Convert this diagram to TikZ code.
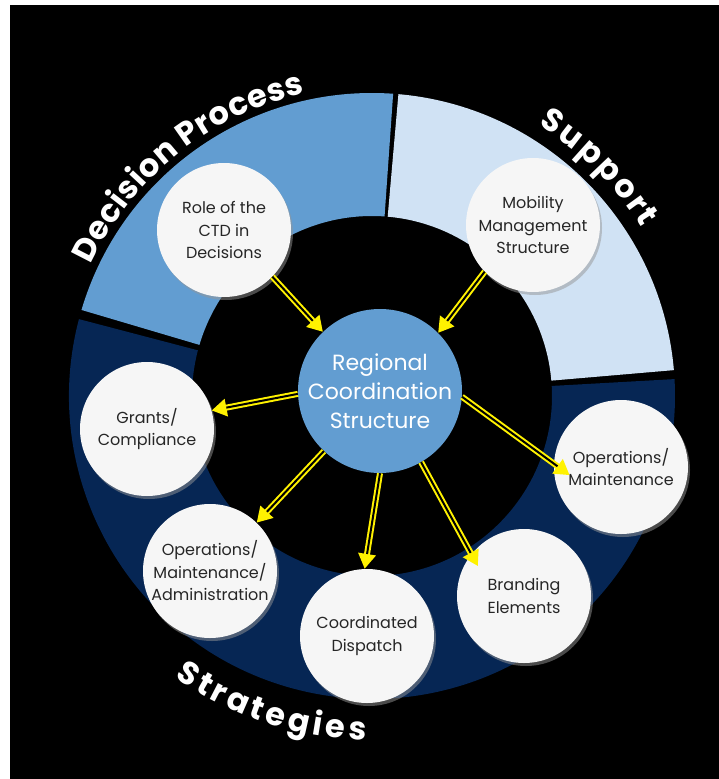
\documentclass[tikz,border=0pt]{standalone}
\usepackage{fontspec}
\setmainfont{Poppins}
\usetikzlibrary{arrows.meta,shadows,decorations.text,calc}
\definecolor{midblue}{RGB}{98,157,209}
\definecolor{lightblue}{RGB}{208,226,244}
\definecolor{navy}{RGB}{6,38,84}
\definecolor{nodefill}{RGB}{246,246,246}
\definecolor{txt}{RGB}{38,38,38}
\definecolor{shadowgray}{RGB}{150,150,150}
\begin{document}
\begin{tikzpicture}[x=1pt,y=1pt,
  bubble/.style={circle, fill=nodefill, minimum size=134pt, inner sep=0pt, align=center,
    text=txt, font=\fontsize{16}{22.5}\selectfont,
    drop shadow={shadow xshift=2pt, shadow yshift=-3pt, fill=shadowgray}},
  hub/.style={circle, fill=midblue, minimum size=164pt, inner sep=0pt, align=center,
    text=white, font=\fontsize{22}{29}\selectfont},
  conn/.style={draw=yellow, line width=6pt, -{Triangle[length=15pt,width=17pt]},
    postaction={draw=black, line width=2pt, -, shorten >=15pt}},
  arclabel/.style={decorate, decoration={text effects along path, text={#1},
    text effects/.cd, text along path, fit text to path,
    characters={text=white, font=\fontsize{32}{40}\selectfont\bfseries}}}
]
\useasboundingbox (0,0) rectangle (719,-779);
\fill[white] (0,0) rectangle (719,-779);
\fill[black] (10,-5) rectangle (719,-779);

\begin{scope}[shift={(372,-396)}]
  \fill[midblue] (86:303) arc[start angle=86, end angle=163.5, radius=303]
    -- (163.5:180) arc[start angle=163.5, end angle=86, radius=180] -- cycle;
  \fill[navy] (165.3:303) arc[start angle=165.3, end angle=363.2, radius=303]
    -- (363.2:180) arc[start angle=363.2, end angle=165.3, radius=180] -- cycle;
  \fill[lightblue] (4.9:303) arc[start angle=4.9, end angle=85, radius=303]
    -- (85:180) arc[start angle=85, end angle=4.9, radius=180] -- cycle;
  \path[arclabel={Decision Process}]
    (155:310) arc[start angle=155, end angle=102.5, radius=310];
  \path[arclabel={Support}]
    (58.5:318) arc[start angle=58.5, end angle=32, radius=318];
  \path[arclabel={Strategies}]
    (235:344) arc[start angle=235, end angle=269, radius=344];
\end{scope}

\node[hub] (ctr) at (380,-391) {Regional\\Coordination\\Structure};
\node[bubble] (role) at (224,-230) {Role of the\\CTD in\\Decisions};
\node[bubble] (mob) at (533,-225) {Mobility\\Management\\Structure};
\node[bubble] (grants) at (147,-429) {Grants/\\Compliance};
\node[bubble] (oma) at (210,-571) {Operations/\\Maintenance/\\Administration};
\node[bubble] (cd) at (367,-636) {Coordinated\\Dispatch};
\node[bubble] (br) at (524,-596) {Branding\\Elements};
\node[bubble] (om) at (621,-467) {Operations/\\Maintenance};

\coordinate (brtip) at ($(br.center)+(147:55)$);
\coordinate (omtip) at ($(om.center)+(189:52)$);

\draw[conn] (role.-44) -- (ctr.134);
\draw[conn] (mob.224) -- (ctr.45);
\draw[conn] (ctr.182) -- (grants.16);
\draw[conn] (ctr.227) -- (oma.46);
\draw[conn] (ctr.270) -- (cd.92);
\draw[conn] (ctr.300) -- (brtip);
\draw[conn] (ctr.356) -- (omtip);
\end{tikzpicture}
\end{document}
